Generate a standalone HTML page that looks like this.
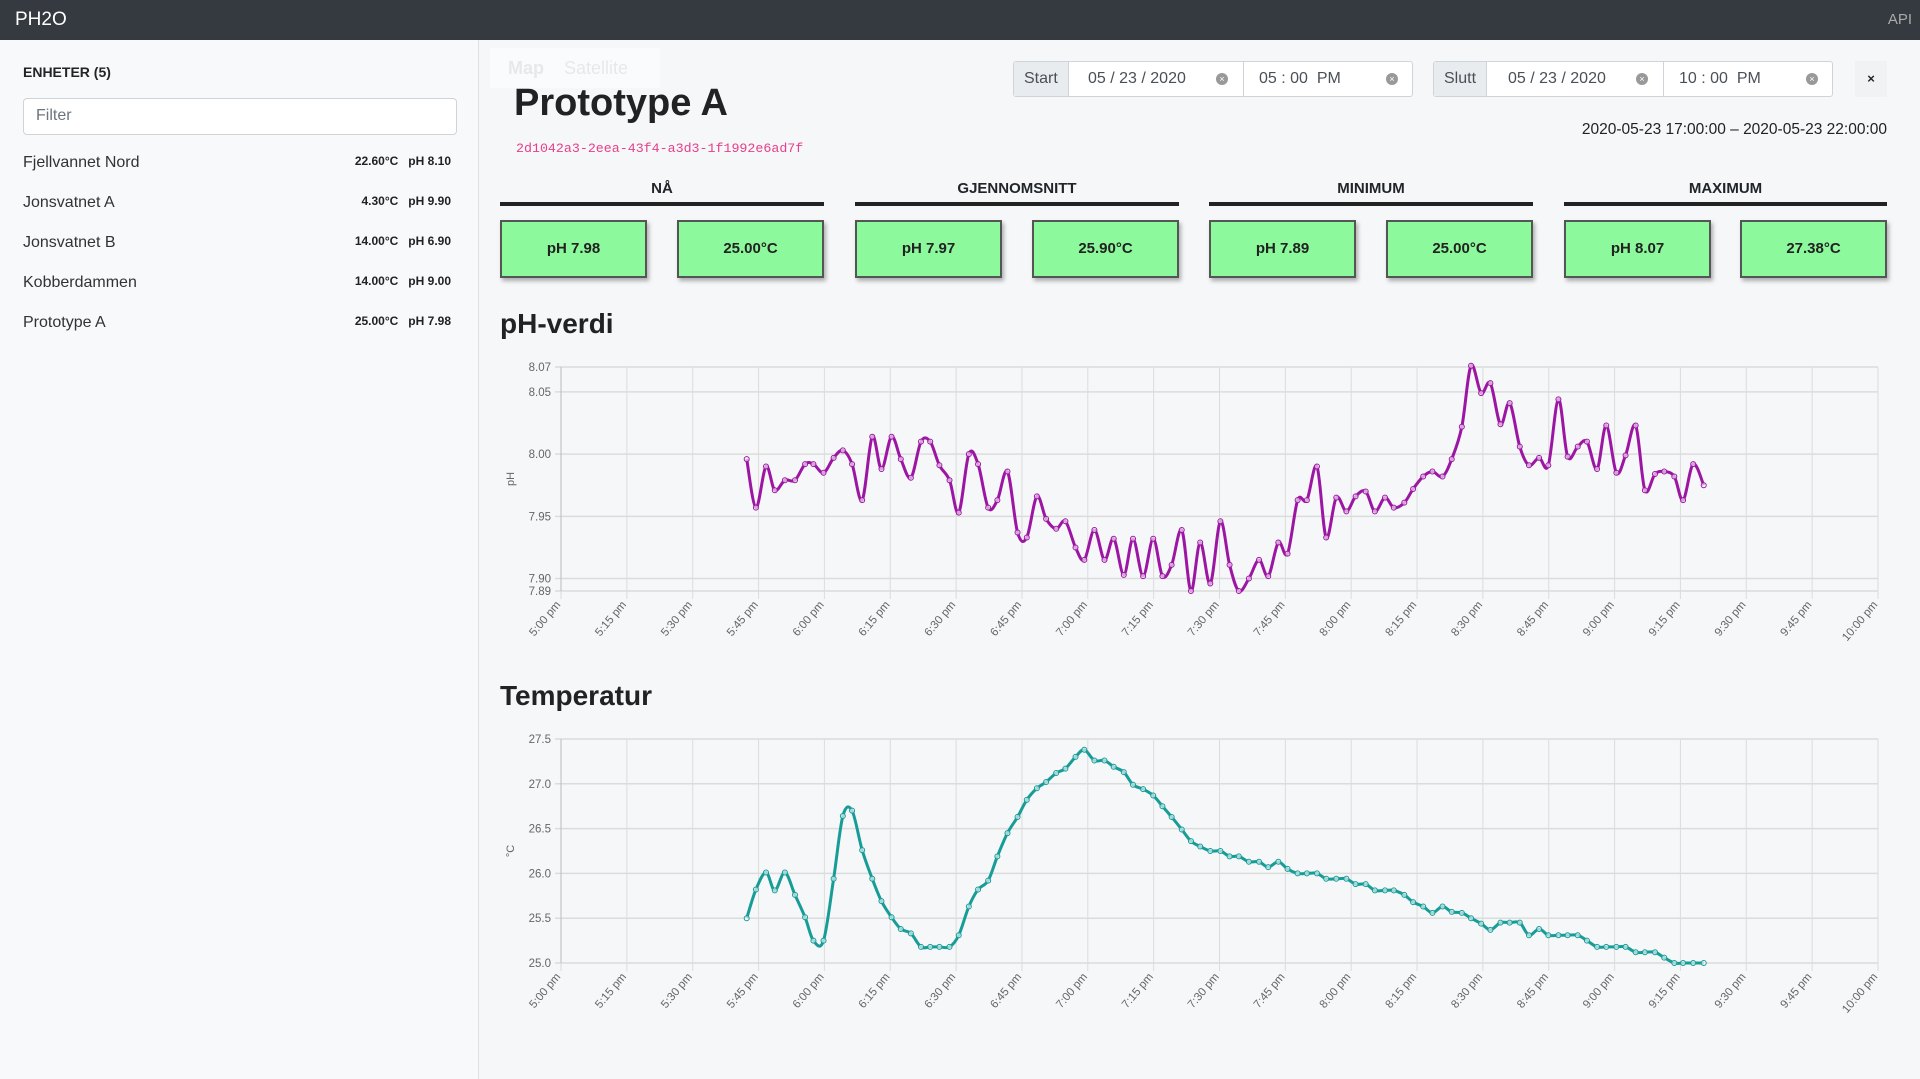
<!DOCTYPE html>
<html><head><meta charset="utf-8">
<style>
*{box-sizing:border-box;margin:0;padding:0}
body{width:1920px;height:1079px;overflow:hidden;font-family:"Liberation Sans",sans-serif;background:#f3f5f6;position:relative;color:#212529}
.abs{position:absolute}
#nav{left:0;top:0;width:1920px;height:40px;background:#343a40}
#side{left:0;top:40px;width:479px;height:1039px;background:#f8f9fa;border-right:1px solid #dee2e6}
#main{left:480px;top:40px;width:1440px;height:1039px;background:#f5f7f8}
.item{position:absolute;left:23px;font-size:16px;color:#333}
.val{position:absolute;right:27px;font-size:12px;font-weight:bold;color:#222}
.dp{position:absolute;top:61px;height:36px;border:1px solid #ced4da;border-radius:3px;background:#fff;font-size:16px;color:#495057}
.dp .t{position:absolute;top:8px}
.lbl{position:absolute;left:0;top:0;height:34px;background:#e9ecef;border-right:1px solid #ced4da;padding:8px 10px}
.clr{position:absolute;width:12px;height:12px;border-radius:50%;background:#999;color:#fff;font-size:9px;line-height:12px;text-align:center;top:11px}
.div{position:absolute;top:0;height:34px;border-left:1px solid #ced4da}
.hdr{position:absolute;top:180px;height:26px;border-bottom:4px solid #222;text-align:center;font-weight:bold;font-size:15px}
.box{position:absolute;top:220px;width:147px;height:58px;background:#8cf99c;border:2px solid #555;box-shadow:2px 3px 4px rgba(0,0,0,.3);text-align:center;line-height:54px;font-size:15px;font-weight:bold;color:#222}
h2{position:absolute;font-size:28px;font-weight:bold;color:#222}
</style></head>
<body>
<div id="nav" class="abs">
 <div class="abs" style="left:15px;top:9px;color:#fff;font-size:19px">PH2O</div>
 <div class="abs" style="right:8px;top:11px;color:#aaa;font-size:15px">API</div>
</div>
<div id="side" class="abs">
 <div class="abs" style="left:23px;top:24px;font-size:14px;font-weight:bold">ENHETER (5)</div>
 <div class="abs" style="left:23px;top:58px;width:434px;height:37px;border:1px solid #ced4da;border-radius:4px;background:#fff;padding:8px 12px;color:#6c757d;font-size:16px">Filter</div>
 <div><div class="item" style="top:114px">Fjellvannet Nord</div><div class="val" style="top:114px">22.60°C &nbsp; pH 8.10</div></div>
 <div><div class="item" style="top:154px">Jonsvatnet A</div><div class="val" style="top:154px">4.30°C &nbsp; pH 9.90</div></div>
 <div><div class="item" style="top:194px">Jonsvatnet B</div><div class="val" style="top:194px">14.00°C &nbsp; pH 6.90</div></div>
 <div><div class="item" style="top:234px">Kobberdammen</div><div class="val" style="top:234px">14.00°C &nbsp; pH 9.00</div></div>
 <div><div class="item" style="top:274px">Prototype A</div><div class="val" style="top:274px">25.00°C &nbsp; pH 7.98</div></div>
</div>
<div id="main" class="abs"></div>
<div class="abs" style="left:490px;top:48px;width:170px;height:40px;background:rgba(255,255,255,.5);color:#e6e8ea;font-size:18px;font-weight:bold;padding:10px 18px">Map &nbsp;&nbsp; <span style="font-weight:normal">Satellite</span></div>
<div class="abs" style="left:514px;top:82px;font-size:38px;font-weight:bold;color:#222">Prototype A</div>
<div class="abs" style="left:516px;top:141px;font-family:'Liberation Mono',monospace;font-size:13.3px;color:#e83e8c">2d1042a3-2eea-43f4-a3d3-1f1992e6ad7f</div>

<div class="dp" style="left:1013px;width:400px">
 <div class="lbl">Start</div><span class="t" style="left:74px">05 / 23 / 2020</span><span class="clr" style="left:202px">×</span>
 <div class="div" style="left:229px"></div>
 <span class="t" style="left:245px">05 : 00 &nbsp;PM</span><span class="clr" style="left:372px">×</span></div>
<div class="dp" style="left:1433px;width:400px">
 <div class="lbl">Slutt</div><span class="t" style="left:74px">05 / 23 / 2020</span><span class="clr" style="left:202px">×</span>
 <div class="div" style="left:229px"></div>
 <span class="t" style="left:245px">10 : 00 &nbsp;PM</span><span class="clr" style="left:372px">×</span></div>
<div class="abs" style="left:1855px;top:61px;width:32px;height:36px;background:#f0f2f3;font-size:13px;font-weight:bold;text-align:center;line-height:36px">×</div>
<div class="abs" style="right:33px;top:121px;font-size:15.5px;color:#222">2020-05-23 17:00:00 – 2020-05-23 22:00:00</div>

<div class="hdr" style="left:500px;width:324px">NÅ</div>
<div class="hdr" style="left:855px;width:324px">GJENNOMSNITT</div>
<div class="hdr" style="left:1209px;width:324px">MINIMUM</div>
<div class="hdr" style="left:1564px;width:323px">MAXIMUM</div>
<div class="box" style="left:500px">pH 7.98</div>
<div class="box" style="left:677px">25.00°C</div>
<div class="box" style="left:855px">pH 7.97</div>
<div class="box" style="left:1032px">25.90°C</div>
<div class="box" style="left:1209px">pH 7.89</div>
<div class="box" style="left:1386px">25.00°C</div>
<div class="box" style="left:1564px">pH 8.07</div>
<div class="box" style="left:1740px">27.38°C</div>

<h2 style="left:500px;top:308px">pH-verdi</h2>
<h2 style="left:500px;top:680px">Temperatur</h2>

<svg class="abs" style="left:0;top:0" width="1920" height="1079" id="charts"></svg>

<script>
const timeLabels=["5:00 pm","5:15 pm","5:30 pm","5:45 pm","6:00 pm","6:15 pm","6:30 pm","6:45 pm","7:00 pm","7:15 pm","7:30 pm","7:45 pm","8:00 pm","8:15 pm","8:30 pm","8:45 pm","9:00 pm","9:15 pm","9:30 pm","9:45 pm","10:00 pm"];
const minutes=[42.3,44.4,46.7,48.7,51.0,53.3,55.6,57.5,59.8,62.1,64.2,66.3,68.6,70.9,73.0,75.3,77.4,79.7,82.0,84.1,86.2,88.5,90.6,92.9,95.0,97.3,99.4,101.7,104.0,106.1,108.4,110.5,112.8,114.9,117.2,119.2,121.5,123.8,125.9,128.2,130.3,132.6,134.9,137.0,139.1,141.4,143.5,145.6,147.9,150.2,152.3,154.4,156.7,159.0,161.1,163.4,165.5,167.8,169.9,172.2,174.3,176.6,178.9,181.0,183.3,185.4,187.7,189.7,192.1,194.1,196.4,198.5,200.8,202.9,205.2,207.3,209.6,211.7,214.0,216.1,218.4,220.5,222.8,224.9,227.2,229.3,231.6,233.7,236.0,238.1,240.4,242.5,244.8,246.9,249.2,251.3,253.6,255.6,257.9,260.3];
const phValues=[7.996,7.957,7.990,7.971,7.979,7.979,7.992,7.992,7.985,7.997,8.003,7.992,7.963,8.014,7.988,8.014,7.996,7.981,8.010,8.010,7.991,7.979,7.953,8.000,7.992,7.957,7.963,7.986,7.937,7.933,7.966,7.948,7.940,7.946,7.925,7.915,7.939,7.915,7.932,7.903,7.932,7.902,7.932,7.902,7.911,7.939,7.890,7.929,7.896,7.946,7.911,7.890,7.900,7.915,7.902,7.929,7.920,7.963,7.963,7.990,7.933,7.965,7.954,7.966,7.970,7.954,7.965,7.957,7.961,7.972,7.982,7.986,7.982,7.996,8.022,8.071,8.049,8.057,8.024,8.041,8.006,7.991,7.997,7.991,8.044,7.998,8.006,8.010,7.988,8.023,7.985,7.999,8.023,7.971,7.984,7.986,7.982,7.963,7.992,7.975];
const tempValues=[25.50,25.82,26.01,25.81,26.01,25.76,25.51,25.25,25.25,25.94,26.64,26.70,26.26,25.94,25.69,25.51,25.38,25.33,25.18,25.18,25.18,25.18,25.31,25.63,25.82,25.92,26.19,26.45,26.63,26.82,26.95,27.02,27.12,27.17,27.30,27.38,27.26,27.26,27.19,27.13,26.99,26.94,26.87,26.75,26.63,26.49,26.36,26.30,26.25,26.25,26.19,26.19,26.13,26.13,26.07,26.13,26.05,26.00,26.00,26.00,25.94,25.94,25.94,25.88,25.88,25.81,25.81,25.81,25.76,25.68,25.63,25.56,25.63,25.57,25.56,25.50,25.44,25.37,25.45,25.45,25.45,25.31,25.38,25.31,25.31,25.31,25.31,25.25,25.18,25.18,25.18,25.18,25.12,25.12,25.12,25.06,25.00,25.00,25.00,25.00];
const phTicks=[8.07,8.05,8.00,7.95,7.90,7.89];
const tempTicks=[27.5,27.0,26.5,26.0,25.5,25.0];

const NS="http://www.w3.org/2000/svg";
const svg=document.getElementById('charts');
function mk(tag,attrs,parent){const e=document.createElementNS(NS,tag);for(const k in attrs)e.setAttribute(k,attrs[k]);(parent||svg).appendChild(e);return e;}
const X0=561,X1=1878;
function xs(m){return X0+(X1-X0)*m/300;}
function pathFor(pts){let d="M"+pts[0][0]+","+pts[0][1];for(let i=0;i<pts.length-1;i++){const p0=pts[Math.max(0,i-1)],p1=pts[i],p2=pts[i+1],p3=pts[Math.min(pts.length-1,i+2)];const c1x=p1[0]+(p2[0]-p0[0])/6,c1y=p1[1]+(p2[1]-p0[1])/6,c2x=p2[0]-(p3[0]-p1[0])/6,c2y=p2[1]-(p3[1]-p1[1])/6;d+=` C${c1x},${c1y} ${c2x},${c2y} ${p2[0]},${p2[1]}`;}return d;}
function chart(name,top,bottom,vmin,vmax,ticks,vals,color,ylabel,fmt){
 const g=mk('g',{});
 
 
 const ys=v=>bottom-(v-vmin)/(vmax-vmin)*(bottom-top);
 timeLabels.forEach((t,i)=>{const x=xs(i*15);
  const l=mk('line',{x1:x,y1:top,x2:x,y2:bottom+8,stroke:'#dcdcdc','stroke-width':1},g);
  
  
  const tx=mk('text',{x:x,y:bottom+14,'text-anchor':'end','font-size':11.5,fill:'#666',transform:`rotate(-50 ${x} ${bottom+14})`},g);
  tx.textContent=t;
  
  
 });
 ticks.forEach(v=>{const y=ys(v);
  const l=mk('line',{x1:X0-6,y1:y,x2:X1,y2:y,stroke:'#dcdcdc','stroke-width':1.5},g);
  
  
  const tx=mk('text',{x:X0-10,y:y+4,'text-anchor':'end','font-size':11.5,fill:'#666'},g);
  tx.textContent=fmt(v);
  
  
 });
 mk('line',{x1:X0,y1:top,x2:X0,y2:bottom,stroke:'#bbb'},g);
 const yl=mk('text',{x:514,y:(top+bottom)/2,'text-anchor':'middle','font-size':11,fill:'#666',transform:`rotate(-90 514 ${(top+bottom)/2})`},g);
 yl.textContent=ylabel;
 
 
 const pts=vals.map((v,i)=>[xs(minutes[i]),ys(v)]);
 const p=mk('path',{d:pathFor(pts),fill:'none',stroke:color,'stroke-width':3},g);
 
 
 pts.forEach(q=>{const c=mk('circle',{cx:q[0],cy:q[1],r:2.5,fill:'#fff','fill-opacity':0.6,stroke:color,'stroke-width':1},g);
  
  
 });
}
chart('ph-chart',367,591,7.89,8.07,phTicks,phValues,'#9c16a3','pH',v=>v.toFixed(2));
chart('temp-chart',739,963,25.0,27.5,tempTicks,tempValues,'#179c98','°C',v=>v.toFixed(1));
</script>
</body></html>
